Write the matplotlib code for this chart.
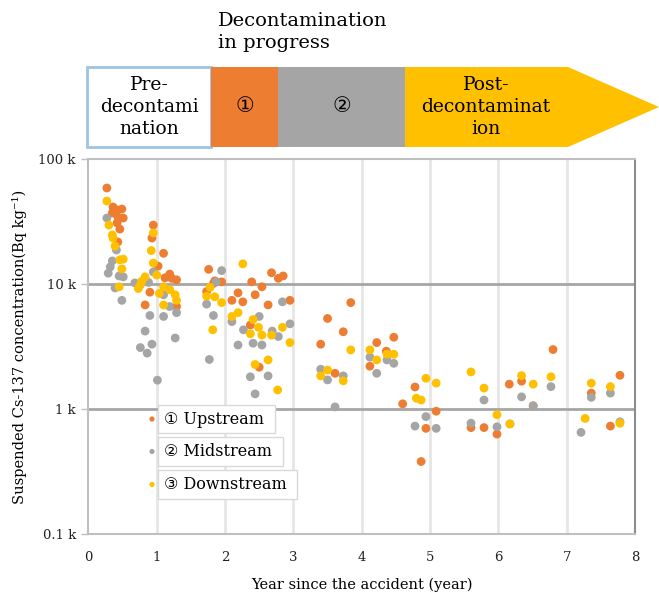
import matplotlib
matplotlib.use("Agg")
import matplotlib.pyplot as plt
from matplotlib.patches import Rectangle, Polygon
from matplotlib.ticker import FixedLocator, NullLocator

plt.rcParams['font.family'] = ['DejaVu Serif', 'DejaVu Sans']

# ---------------- data (years since accident, concentration in k Bq/kg) ----------------
up_year = [0.27, 0.36, 0.42, 0.49, 0.35, 0.51, 0.43, 0.42, 0.46, 0.43,
           0.95, 0.93, 1.10, 1.02, 1.19, 1.12, 1.22, 1.29, 0.90, 0.83, 1.29,
           1.76, 2.68, 2.78, 2.85, 1.85, 1.95, 1.83, 2.39, 2.54, 2.44, 2.19, 1.73, 2.10, 2.26, 2.63, 2.95, 2.37, 2.50,
           3.84, 3.50, 3.73, 3.40, 3.61, 4.22, 4.47, 4.36, 4.12, 4.60, 4.78, 5.09, 4.94, 4.87,
           5.60, 5.79, 5.98, 6.16, 6.34, 6.51, 6.80, 7.36, 7.64, 7.78]
up_conc = [58.6, 41.3, 39.1, 39.8, 37.0, 33.7, 34.4, 30.8, 27.5, 21.7,
           29.6, 23.3, 17.6, 13.9, 12.0, 11.2, 11.1, 10.8, 8.6, 6.8, 6.6,
           13.1, 12.3, 11.1, 11.6, 10.6, 10.4, 10.1, 10.4, 9.5, 8.2, 8.5, 8.7, 7.4, 7.2, 6.8, 7.4, 4.7, 2.16,
           7.1, 5.3, 4.15, 3.3, 1.93, 3.4, 3.75, 2.9, 2.2, 1.1, 1.5, 0.96, 0.70, 0.38,
           0.71, 0.71, 0.63, 1.58, 1.67, 1.06, 2.99, 1.34, 0.73, 1.86]

mid_year = [0.27, 0.41, 0.35, 0.32, 0.29, 0.45, 0.51, 0.39, 0.49,
            0.95, 0.88, 0.68, 1.10, 1.19, 1.29, 0.90, 1.10, 0.83, 1.27, 0.93, 0.76, 0.86, 1.01,
            1.95, 1.87, 1.73, 2.84, 1.83, 2.10, 2.50, 2.27, 2.95, 2.69, 2.78, 2.19, 2.41, 2.54, 1.77, 2.37, 2.63, 2.44,
            3.40, 3.50, 3.73, 3.61, 4.12, 4.37, 4.47, 4.22, 4.94, 4.78, 5.09,
            5.60, 5.98, 5.79, 6.34, 6.51, 6.17, 6.77, 7.36, 7.64, 7.21, 7.78]
mid_conc = [33.7, 18.7, 15.3, 13.7, 12.2, 11.6, 11.4, 9.3, 7.4,
            12.5, 10.3, 10.2, 8.2, 6.6, 5.9, 5.6, 5.5, 4.2, 3.7, 3.3, 3.1, 2.8, 1.7,
            12.8, 10.4, 6.9, 7.2, 5.6, 5.0, 5.5, 4.3, 4.8, 4.2, 3.8, 3.25, 3.36, 3.25, 2.49, 1.81, 1.84, 1.32,
            2.08, 1.71, 1.84, 1.04, 2.6, 2.47, 2.32, 1.93, 0.87, 0.73, 0.70,
            0.77, 0.72, 1.18, 1.25, 1.06, 0.76, 1.51, 1.24, 1.34, 0.65, 0.79]

down_year = [0.27, 0.30, 0.35, 0.36, 0.39, 0.46, 0.51, 0.49, 0.45,
             0.95, 0.92, 0.95, 1.00, 0.83, 0.78, 0.76, 0.73, 1.10, 1.19, 1.27, 1.04, 1.29, 1.10,
             2.26, 1.78, 1.73, 1.85, 1.95, 2.19, 2.10, 2.41, 2.49, 2.84, 1.82, 2.37, 2.54, 2.68, 2.95, 2.63, 2.44, 2.77,
             3.84, 3.50, 3.40, 3.73, 4.12, 4.37, 4.47, 4.22, 4.94, 5.09, 4.80, 4.87,
             5.60, 5.79, 5.98, 6.17, 6.34, 6.51, 6.77, 7.36, 7.64, 7.27, 7.78]
down_conc = [46.1, 29.6, 24.7, 23.3, 20.1, 15.6, 15.8, 13.2, 9.5,
             25.6, 18.5, 14.7, 11.8, 11.4, 10.5, 9.8, 9.2, 9.5, 9.0, 8.2, 8.4, 7.4, 6.8,
             14.5, 9.4, 8.0, 7.9, 7.1, 5.9, 5.5, 5.2, 4.5, 4.5, 4.3, 4.0, 3.9, 3.9, 3.4, 2.47, 2.27, 1.42,
             2.97, 2.05, 1.84, 1.68, 2.97, 2.75, 2.74, 2.47, 1.76, 1.61, 1.22, 1.18,
             1.98, 1.47, 0.9, 0.76, 1.85, 1.58, 1.81, 1.61, 1.51, 0.84, 0.77]

series_labels = ["\u2460 Upstream", "\u2461 Midstream", "\u2462 Downstream"]
series_colors = ["#ED7D31", "#A5A5A5", "#FFC000"]

x_ticks = [0, 1, 2, 3, 4, 5, 6, 7, 8]
y_ticks = [0.1, 1, 10, 100]
y_ticklabels = ["0.1 k", "1 k", "10 k", "100 k"]

phase_labels = ["Pre-\ndecontami\nnation", "\u2460", "\u2461", "Post-\ndecontaminat\nion"]

# ---------------- figure ----------------
W, H = 659, 598
fig = plt.figure(figsize=(W / 100, H / 100), dpi=100)

L, R, T, B = 88.4, 635, 159, 534
ax = fig.add_axes([L / W, 1 - B / H, (R - L) / W, (B - T) / H])
ax.set_yscale('log')
ax.set_xlim(0, 8)
ax.set_ylim(0.1, 100)

for yr, cc, col in zip([up_year, mid_year, down_year], [up_conc, mid_conc, down_conc], series_colors):
    ax.scatter(yr, cc, s=40, color=col, edgecolors='none', zorder=3)

ax.xaxis.set_major_locator(FixedLocator(x_ticks))
ax.yaxis.set_major_locator(FixedLocator(y_ticks))
ax.yaxis.set_minor_locator(NullLocator())
ax.set_yticklabels(y_ticklabels)
ax.tick_params(axis='x', length=0, pad=12, labelsize=9.5, labelcolor='#222222')
ax.tick_params(axis='y', length=5, width=1, color='#BFBFBF', pad=4, labelsize=9.5, labelcolor='#222222')

for xv in x_ticks[1:-1]:
    ax.axvline(xv, color='#E6E6E6', lw=2, zorder=1)
for yv in [1, 10]:
    ax.axhline(yv, color='#A6A6A6', lw=2, zorder=1.5)
for s in ['left', 'bottom', 'top']:
    ax.spines[s].set_color('#BFBFBF')
    ax.spines[s].set_linewidth(1.5)
ax.spines['right'].set_color('#8C8C8C')
ax.spines['right'].set_linewidth(1.5)

ax.set_xlabel("Year since the accident (year)", fontsize=10.5, labelpad=10)
ax.set_ylabel("Suspended Cs-137 concentration(Bq kg\u207b\u00b9)", fontsize=10.5, labelpad=8)

# ---------------- overlay (header diagram + legend) in pixel coordinates ----------------
ov = fig.add_axes([0, 0, 1, 1], zorder=5)
ov.set_xlim(0, W)
ov.set_ylim(H, 0)
ov.axis('off')
ov.patch.set_alpha(0)

top, bot = 67, 147
mid = (top + bot) / 2
ov.add_patch(Rectangle((87, top), 211 - 87, bot - top, facecolor='white', edgecolor='#9DC3E6', lw=2))
ov.add_patch(Rectangle((211, top), 278 - 211, bot - top, facecolor='#ED7D31', edgecolor='none'))
ov.add_patch(Rectangle((278, top), 405 - 278, bot - top, facecolor='#A5A5A5', edgecolor='none'))
ov.add_patch(Polygon([(405, top), (568, top), (659, mid), (568, bot), (405, bot)],
                     closed=True, facecolor='#FFC000', edgecolor='none'))

ov.text(218, 32, "Decontamination\nin progress", ha='left', va='center', fontsize=14, linespacing=1.25)
ov.text(149, mid, phase_labels[0], ha='center', va='center', fontsize=13.5, linespacing=1.3)
ov.text(244.5, mid, phase_labels[1], ha='center', va='center', fontsize=15)
ov.text(341.5, mid, phase_labels[2], ha='center', va='center', fontsize=15)
ov.text(486, mid, phase_labels[3], ha='center', va='center', fontsize=13.5, linespacing=1.3)

# legend
leg_boxes = [(405, 433, 275), (437, 466, 283), (470, 499, 297)]
for (y0, y1, xr), lab, col in zip(leg_boxes, series_labels, series_colors):
    ov.add_patch(Rectangle((158, y0), xr - 158, y1 - y0, facecolor='white', edgecolor='#D9D9D9', lw=1))
    ov.scatter([152], [(y0 + y1) / 2], s=14, color=col, edgecolors='none')
    ov.text(164, (y0 + y1) / 2, lab, ha='left', va='center', fontsize=11.5)

fig.savefig("out.png", dpi=100)
